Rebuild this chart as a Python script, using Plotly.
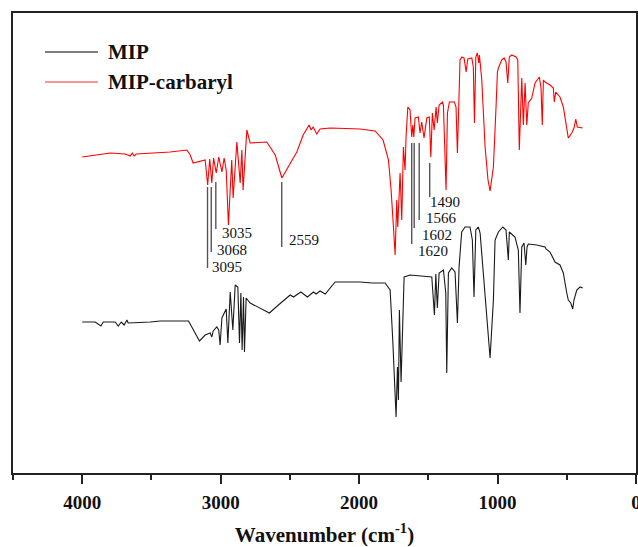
import plotly.graph_objects as go

# ---- MIP-carbaryl spectrum (red) : wavenumber (cm-1), transmittance (a.u.)
carb_wn = [4000, 3798, 3690, 3653, 3639, 3625, 3610, 3365, 3244, 3220, 3199, 3148, 3112,
           3094, 3079, 3064, 3051, 3032, 3014, 2991, 2975, 2960, 2944, 2920, 2910, 2883,
           2859, 2847, 2838, 2811, 2787, 2667, 2606, 2558, 2513, 2450, 2404, 2361, 2347,
           2332, 2306, 2282, 2209, 1993, 1884, 1827, 1788, 1769, 1752, 1740, 1728, 1721,
           1704, 1692, 1680, 1668, 1661, 1648, 1632, 1620, 1612, 1605, 1596, 1572, 1560,
           1548, 1531, 1511, 1493, 1482, 1471, 1458, 1444, 1435, 1422, 1398, 1391, 1372,
           1362, 1348, 1312, 1300, 1290, 1278, 1271, 1258, 1242, 1227, 1215, 1186, 1175,
           1167, 1157, 1146, 1136, 1131, 1114, 1090, 1069, 1054, 1030, 1011, 1001, 994,
           970, 953, 939, 926, 915, 898, 866, 854, 843, 825, 814, 801, 789, 778, 753, 729,
           698, 686, 677, 669, 657, 621, 597, 590, 580, 549, 525, 489, 464, 448, 435, 424,
           385]
carb_t = [323, 327, 326, 324, 327, 324, 326, 328, 330, 325, 317, 319, 320,
          295, 321, 297, 322, 307, 323, 308, 322, 310, 255, 320, 282, 338,
          297, 330, 290, 350, 337, 338, 325, 302, 313, 328, 345, 355, 350,
          353, 346, 351, 352, 351, 349, 340, 320, 290, 253, 225, 280, 253,
          307, 260, 333, 310, 343, 373, 370, 343, 355, 343, 362, 363, 347,
          358, 342, 362, 363, 323, 367, 350, 373, 357, 375, 378, 375, 290,
          367, 378, 378, 373, 327, 373, 420, 423, 422, 408, 421, 422, 413,
          357, 423, 427, 417, 425, 400, 333, 300, 289, 313, 373, 408, 412,
          420, 422, 418, 397, 423, 425, 423, 420, 330, 402, 355, 397, 355, 377, 382, 397,
          403, 392, 355, 400, 398, 395, 392, 378, 388, 383, 373, 342, 347, 352, 361, 353,
          352]

# ---- MIP spectrum (black)
mip_wn = [4000, 3906, 3865, 3848, 3762, 3740, 3718, 3697, 3677, 3668, 3509, 3437, 3232,
          3206, 3153, 3112, 3076, 3064, 3054, 3028, 3014, 3004, 2991, 2960, 2948, 2931,
          2912, 2895, 2876, 2864, 2854, 2845, 2835, 2828, 2816, 2787, 2648, 2583, 2498,
          2474, 2421, 2373, 2330, 2310, 2282, 2245, 2173, 1993, 1906, 1812, 1776, 1757,
          1740, 1733, 1723, 1716, 1709, 1697, 1675, 1632, 1475, 1456, 1446, 1435, 1422,
          1391, 1374, 1367, 1355, 1331, 1307, 1290, 1278, 1259, 1235, 1199, 1182, 1170,
          1157, 1139, 1126, 1090, 1054, 1030, 1018, 994, 962, 939, 922, 915, 874, 850, 838,
          825, 809, 796, 787, 778, 717, 657, 650, 621, 597, 585, 549, 525, 500, 489, 471,
          457, 448, 428, 404, 385]
mip_t = [158, 158, 154, 158, 158, 154, 158, 155, 160, 157, 158, 159, 159,
         152, 139, 145, 147, 143, 149, 153, 150, 135, 162, 171, 137, 188,
         150, 195, 193, 137, 187, 130, 183, 128, 182, 177, 167, 175, 185,
         183, 188, 183, 188, 186, 189, 186, 198, 198, 197, 197, 190, 140,
         80, 63, 113, 80, 170, 98, 203, 205, 203, 165, 206, 172, 207,
         210, 187, 107, 207, 212, 208, 157, 213, 248, 253, 253, 240, 183,
         250, 253, 247, 183, 122, 180, 240, 248, 253, 250, 220, 248, 243, 230, 167,
         233, 237, 215, 233, 236, 235, 233, 231, 228, 222, 218, 215, 207, 187, 180, 177,
         171, 180, 190, 193, 192]

# ---- peak assignments (wavenumber, marker line top / bottom, label position)
peak_wn = [3095, 3068, 3035, 2559, 1620, 1602, 1566, 1490]
peak_top = [293, 293, 298, 298, 337, 337, 337, 317]
peak_bottom = [212, 228, 251, 233, 236, 252, 260, 283]
label_text = ["3095", "3068", "3035", "2559", "1620", "1602", "1566", "1490"]
label_wn = [3076, 3040, 3004, 2520, 1588, 1560, 1531, 1502]
label_t = [213, 230, 247, 240, 229, 245, 262, 278]

series_names = ["MIP", "MIP-carbaryl"]
series_colors = ["#1a1a1a", "#ff0000"]

x_ticks = [4000, 3000, 2000, 1000, 0]

SERIF = "Liberation Serif, Times New Roman, serif"

fig = go.Figure()

fig.add_trace(go.Scatter(x=mip_wn, y=mip_t, mode="lines", name=series_names[0],
                         line=dict(color=series_colors[0], width=1.1), showlegend=False))
fig.add_trace(go.Scatter(x=carb_wn, y=carb_t, mode="lines", name=series_names[1],
                         line=dict(color=series_colors[1], width=1.1), showlegend=False))

# peak marker lines
for wn, top, bot in zip(peak_wn, peak_top, peak_bottom):
    fig.add_trace(go.Scatter(x=[wn, wn], y=[top, bot], mode="lines",
                             line=dict(color="#555555", width=1.4),
                             showlegend=False, hoverinfo="skip"))

for txt, wn, t in zip(label_text, label_wn, label_t):
    fig.add_annotation(x=wn, y=t, xref="x", yref="y", text=txt, showarrow=False,
                       xanchor="left", yanchor="middle",
                       font=dict(family=SERIF, size=15, color="#111111"))

# manual legend (long line samples as in the original)
leg_y = [0.9152, 0.85]
leg_col = ["#555555", "#ff7070"]
for name, yy, col in zip(series_names, leg_y, leg_col):
    fig.add_shape(type="line", xref="paper", yref="paper", x0=0.0514, x1=0.1364,
                  y0=yy, y1=yy, line=dict(color=col, width=1.4))
    fig.add_annotation(xref="paper", yref="paper", x=0.1493, y=yy, text="<b>%s</b>" % name,
                       showarrow=False, xanchor="left", yanchor="middle",
                       font=dict(family=SERIF, size=21, color="#111111"))

fig.update_layout(
    width=638, height=547,
    margin=dict(l=13, r=2, t=13, b=74, autoexpand=False),
    paper_bgcolor="white", plot_bgcolor="white",
    showlegend=False,
    font=dict(family=SERIF, color="#111111"),
    xaxis=dict(
        range=[4500, 0], tickvals=x_ticks, ticktext=["<b>%d</b>" % v for v in x_ticks],
        automargin=False,
        ticks="outside", ticklen=9, tickwidth=1.5, tickcolor="#222222",
        ticklabelstandoff=2, ticklabeloverflow="allow",
        minor=dict(tickvals=[4500, 3500, 2500, 1500, 500], ticks="outside", ticklen=5,
                   tickwidth=1.5, tickcolor="#222222"),
        showline=True, linecolor="#222222", linewidth=2, mirror=True,
        showgrid=False, zeroline=False,
        tickfont=dict(family=SERIF, size=19, color="#111111"),
        title=dict(text="<b>Wavenumber (cm<sup>-1</sup>)</b>", standoff=16,
                   font=dict(family=SERIF, size=21, color="#111111")),
    ),
    yaxis=dict(
        range=[7, 467], showticklabels=False, ticks="", automargin=False,
        showline=True, linecolor="#222222", linewidth=2, mirror=True,
        showgrid=False, zeroline=False,
    ),
)

# remove the browser's default 8px page margin so the figure fills the window
fig.write_html("out.html", config={"displayModeBar": False},
               post_script="document.body.style.margin='0';document.body.style.overflow='hidden';")
